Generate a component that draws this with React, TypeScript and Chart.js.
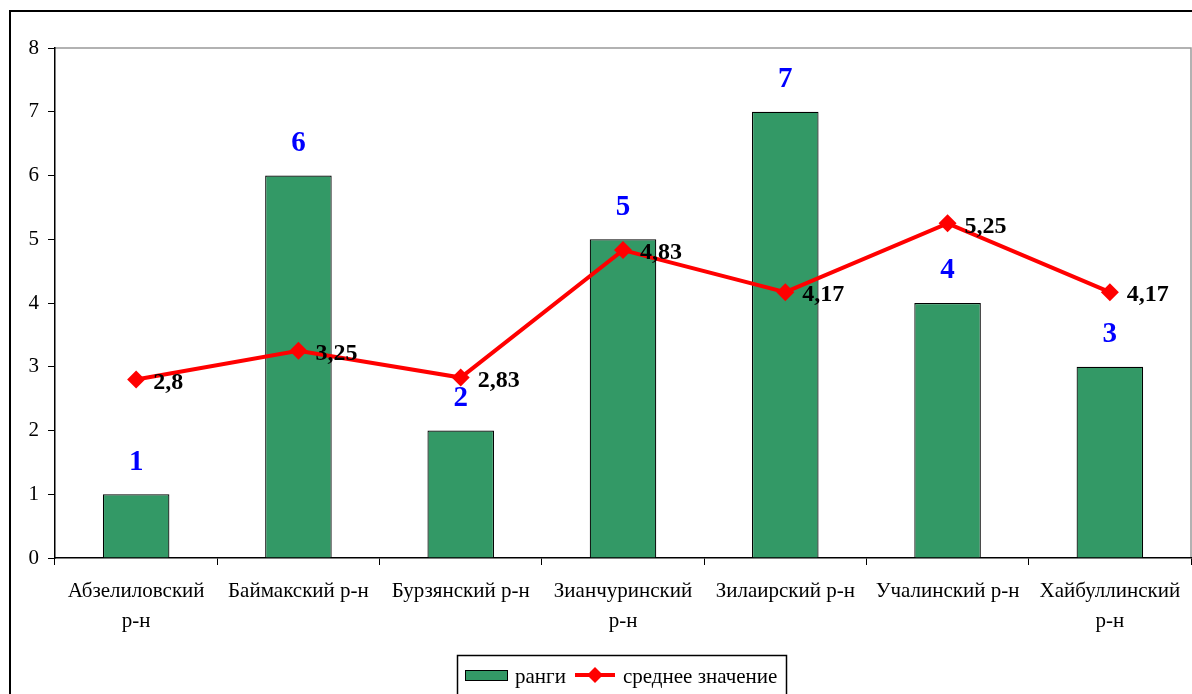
import React, { useEffect, useRef } from "react";
import { Chart, registerables } from "chart.js";

Chart.register(...registerables);

const categories: string[][] = [
  ["Абзелиловский", "р-н"],
  ["Баймакский р-н"],
  ["Бурзянский р-н"],
  ["Зианчуринский", "р-н"],
  ["Зилаирский р-н"],
  ["Учалинский р-н"],
  ["Хайбуллинский", "р-н"],
];
const ranks: number[] = [1, 6, 2, 5, 7, 4, 3];
const means: number[] = [2.8, 3.25, 2.83, 4.83, 4.17, 5.25, 4.17];
const meanLabels: string[] = ["2,8", "3,25", "2,83", "4,83", "4,17", "5,25", "4,17"];
const seriesNames: string[] = ["ранги", "среднее значение"];

const SERIF = "'Liberation Serif', 'Times New Roman', serif";
const GREEN = "#339966";
const RED = "#ff0000";

const decorPlugin = {
  id: "decor",
  beforeDraw(chart: any) {
    const ctx = chart.ctx;
    ctx.save();
    ctx.fillStyle = "#ffffff";
    ctx.fillRect(0, 0, chart.width, chart.height);
    // outer frame
    ctx.strokeStyle = "#000000";
    ctx.lineWidth = 2;
    ctx.beginPath();
    ctx.moveTo(10, chart.height + 2);
    ctx.lineTo(10, 11);
    ctx.lineTo(chart.width + 2, 11);
    ctx.stroke();
    // plot area top/right grey border
    const a = chart.chartArea;
    ctx.strokeStyle = "#999999";
    ctx.lineWidth = 1.5;
    ctx.beginPath();
    ctx.moveTo(a.left, a.top);
    ctx.lineTo(a.right, a.top);
    ctx.lineTo(a.right, a.bottom);
    ctx.stroke();
    ctx.restore();
  },
  afterDatasetsDraw(chart: any) {
    const ctx = chart.ctx;
    ctx.save();
    const barMeta = chart.getDatasetMeta(1);
    ctx.font = `bold 29px ${SERIF}`;
    ctx.fillStyle = "#0000ff";
    ctx.textAlign = "center";
    ctx.textBaseline = "middle";
    barMeta.data.forEach((el: any, i: number) => {
      ctx.fillText(String(ranks[i]), el.x, el.y - 32);
    });
    const lineMeta = chart.getDatasetMeta(0);
    ctx.font = `bold 24px ${SERIF}`;
    ctx.fillStyle = "#000000";
    ctx.textAlign = "left";
    lineMeta.data.forEach((el: any, i: number) => {
      ctx.fillText(meanLabels[i], el.x + 17, el.y + 3);
    });
    ctx.restore();
  },
  afterDraw(chart: any) {
    const ctx = chart.ctx;
    ctx.save();
    // legend box
    ctx.strokeStyle = "#000000";
    ctx.lineWidth = 1.5;
    ctx.strokeRect(457.5, 655.5, 329, 50);
    // bar swatch
    ctx.fillStyle = GREEN;
    ctx.fillRect(465, 670, 43, 10);
    ctx.lineWidth = 1;
    ctx.strokeRect(465.5, 670.5, 42, 10);
    ctx.font = `21px ${SERIF}`;
    ctx.fillStyle = "#000000";
    ctx.textAlign = "left";
    ctx.textBaseline = "alphabetic";
    ctx.fillText(seriesNames[0], 515, 683);
    // line swatch
    ctx.strokeStyle = RED;
    ctx.lineWidth = 4;
    ctx.beginPath();
    ctx.moveTo(575, 675);
    ctx.lineTo(615, 675);
    ctx.stroke();
    ctx.fillStyle = RED;
    ctx.beginPath();
    ctx.moveTo(595, 667);
    ctx.lineTo(603, 675);
    ctx.lineTo(595, 683);
    ctx.lineTo(587, 675);
    ctx.closePath();
    ctx.fill();
    ctx.fillStyle = "#000000";
    ctx.fillText(seriesNames[1], 623, 683);
    ctx.restore();
  },
};

export default function App() {
  const ref = useRef<HTMLCanvasElement>(null);
  useEffect(() => {
    if (!ref.current) return;
    const chart = new Chart(ref.current, {
      type: "bar",
      data: {
        labels: categories,
        datasets: [
          {
            type: "line",
            label: seriesNames[1],
            data: means,
            borderColor: RED,
            backgroundColor: RED,
            borderWidth: 4,
            pointStyle: "rectRot",
            pointRadius: 9,
            pointBackgroundColor: RED,
            pointBorderColor: RED,
            pointBorderWidth: 0,
            tension: 0,
            order: 0,
          } as any,
          {
            type: "bar",
            label: seriesNames[0],
            data: ranks,
            backgroundColor: GREEN,
            borderColor: "#000000",
            borderWidth: 1.2,
            categoryPercentage: 1,
            barPercentage: 0.41,
            order: 1,
          },
        ],
      },
      options: {
        responsive: false,
        animation: false,
        devicePixelRatio: 1,
        layout: { autoPadding: false, padding: { top: 48, right: 1, left: 0, bottom: 0 } },
        plugins: {
          legend: { display: false },
          tooltip: { enabled: false },
        },
        scales: {
          x: {
            offset: true,
            grid: {
              offset: true,
              drawOnChartArea: false,
              drawTicks: true,
              tickLength: 7,
              color: "#000000",
            },
            border: { display: true, color: "#000000", width: 1.5 },
            ticks: {
              color: "#000000",
              font: { family: SERIF, size: 21, lineHeight: 1.45 },
              padding: 11,
              maxRotation: 0,
              autoSkip: false,
            },
            afterFit(axis: any) {
              axis.height = 136;
              axis.paddingLeft = 0;
              axis.paddingRight = 0;
            },
          },
          y: {
            min: 0,
            max: 8,
            ticks: {
              stepSize: 1,
              color: "#000000",
              font: { family: SERIF, size: 21 },
              padding: 9,
            },
            grid: {
              drawOnChartArea: false,
              drawTicks: true,
              tickLength: 7,
              color: "#000000",
            },
            border: { display: true, color: "#000000", width: 1.5 },
            afterFit(axis: any) {
              axis.width = 55;
              axis.paddingTop = 0;
              axis.paddingBottom = 0;
            },
          },
        },
      },
      plugins: [decorPlugin],
    });
    return () => chart.destroy();
  }, []);
  return (
    <canvas
      ref={ref}
      width={1192}
      height={694}
      style={{ position: "fixed", left: 0, top: 0, width: 1192, height: 694 }}
    />
  );
}
